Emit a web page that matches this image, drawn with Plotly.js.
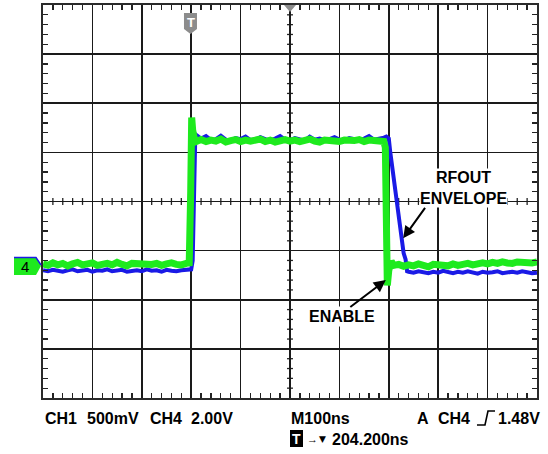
<!DOCTYPE html>
<html>
<head>
<meta charset="utf-8">
<script src="https://cdn.plot.ly/plotly-3.0.1.min.js"></script>
<style>html,body{margin:0;padding:0;background:#fff;}#chart{width:548px;height:454px;}</style>
</head>
<body>
<div id="chart"></div>
<script>
// Time in ns (M100ns per division), amplitude in screen divisions
const enableT = [0,10,20,30,40,50,60,70,80,90,100,110,120,130,140,150,160,170,180,190,200,210,220,230,240,250,260,270,280,290,
  296,299,301,303,306,310,
  320,330,340,350,360,370,380,390,400,410,420,430,440,450,460,470,480,490,500,510,520,530,540,550,560,570,580,590,600,610,620,630,640,650,660,670,680,
  690,693,695,697,700,705,710,
  720,730,740,750,760,770,780,790,800,810,820,830,840,850,860,870,880,890,900,910,920,930,940,950,960,970,980,990,1000];
const enableV = [-1.27,-1.30,-1.25,-1.29,-1.26,-1.31,-1.27,-1.24,-1.29,-1.28,-1.25,-1.30,-1.27,-1.26,-1.29,-1.24,-1.28,-1.31,-1.26,-1.27,-1.25,-1.29,-1.28,-1.26,-1.30,-1.27,-1.25,-1.28,-1.29,-1.26,
  -1.25,0.20,1.71,1.45,1.30,1.22,
  1.26,1.22,1.25,1.23,1.27,1.21,1.24,1.26,1.22,1.25,1.23,1.24,1.27,1.22,1.25,1.21,1.24,1.26,1.23,1.25,1.22,1.24,1.27,1.23,1.21,1.25,1.24,1.26,1.22,1.25,1.23,1.24,1.26,1.22,1.25,1.23,1.24,
  1.22,1.10,-1.10,-1.71,-1.40,-1.22,-1.30,
  -1.28,-1.32,-1.29,-1.31,-1.27,-1.30,-1.33,-1.28,-1.30,-1.29,-1.31,-1.27,-1.30,-1.28,-1.26,-1.29,-1.27,-1.25,-1.27,-1.24,-1.26,-1.23,-1.25,-1.26,-1.23,-1.24,-1.22,-1.25,-1.23];

const rfoutT = [0,10,20,30,40,50,60,70,80,90,100,110,120,130,140,150,160,170,180,190,200,210,220,230,240,250,260,270,280,290,300,
  303,306,308,312,
  320,330,340,350,360,370,380,390,400,410,420,430,440,450,460,470,480,490,500,510,520,530,540,550,560,570,580,590,600,610,620,630,640,650,660,670,680,690,
  695,700,703,708,714,720,726,730,734,737,740,
  750,760,770,780,790,800,810,820,830,840,850,860,870,880,890,900,910,920,930,940,950,960,970,980,990,1000];
const rfoutV = [-1.40,-1.42,-1.39,-1.41,-1.43,-1.40,-1.38,-1.42,-1.41,-1.39,-1.43,-1.40,-1.41,-1.38,-1.42,-1.40,-1.39,-1.43,-1.41,-1.40,-1.42,-1.38,-1.41,-1.40,-1.43,-1.39,-1.41,-1.42,-1.40,-1.39,-1.38,
  -1.20,0.60,1.20,1.34,
  1.28,1.33,1.25,1.27,1.34,1.26,1.24,1.29,1.27,1.32,1.25,1.26,1.31,1.27,1.24,1.28,1.33,1.26,1.25,1.29,1.27,1.24,1.32,1.26,1.28,1.25,1.27,1.31,1.26,1.24,1.29,1.27,1.25,1.28,1.33,1.26,1.27,1.30,
  1.32,1.28,1.00,0.60,0.10,-0.40,-0.80,-1.05,-1.18,-1.42,-1.43,
  -1.45,-1.42,-1.44,-1.46,-1.43,-1.45,-1.41,-1.44,-1.46,-1.43,-1.45,-1.42,-1.44,-1.47,-1.43,-1.45,-1.44,-1.42,-1.46,-1.44,-1.43,-1.45,-1.42,-1.44,-1.46,-1.45];

const bottomLabels = ["CH1", "500mV", "CH4", "2.00V", "M100ns", "A", "CH4", "1.48V"];
const triggerLabel = "204.200ns";

// pixel -> paper helpers (plot area: x 43..537, y 5..398)
const L = 43, R = 537, T = 5, B = 398;
const px = x => (x - L) / (R - L);
const py = y => (B - y) / (B - T);
const P = pts => 'M' + pts.map(p => px(p[0]).toFixed(4) + ',' + py(p[1]).toFixed(4)).join(' L') + ' Z';
const PL = pts => 'M' + pts.map(p => px(p[0]).toFixed(4) + ',' + py(p[1]).toFixed(4)).join(' L');

const GREEN = '#1eea1e', BLUE = '#1a1ae6', GRAY = '#8c8c8c';
const FONT = 'Liberation Sans, Arial, sans-serif';

const traces = [
  {x: rfoutT, y: rfoutV, type: 'scatter', mode: 'lines', line: {color: BLUE, width: 4}, hoverinfo: 'skip'},
  {x: enableT, y: enableV, type: 'scatter', mode: 'lines', line: {color: GREEN, width: 7}, hoverinfo: 'skip'}
];

const shapes = [];
// minor ticks on centre lines
for (let i = 0; i <= 50; i++) {
  const t = i * 20;
  if (t % 100 === 0) continue;
  shapes.push({type: 'line', xref: 'x', yref: 'y', x0: t, x1: t, y0: -0.07, y1: 0.07, line: {color: '#222', width: 1.3}, layer: 'below'});
}
for (let i = 0; i <= 40; i++) {
  const v = -4 + i * 0.2;
  if (Math.abs(v - Math.round(v)) < 1e-6) continue;
  shapes.push({type: 'line', xref: 'x', yref: 'y', x0: 494, x1: 506, y0: v, y1: v, line: {color: '#222', width: 1.3}, layer: 'below'});
}
// channel 4 marker
shapes.push({type: 'path', xref: 'paper', yref: 'paper', path: P([[14,257],[36,257],[41,266],[36,275],[14,275]]), fillcolor: GREEN, line: {width: 0}});
shapes.push({type: 'path', xref: 'paper', yref: 'paper', path: PL([[14,257.5],[36,257.5],[41,265]]), line: {color: BLUE, width: 1.5}});
// trigger position marker
shapes.push({type: 'path', xref: 'paper', yref: 'paper', path: P([[184,13],[197,13],[197,29],[190.5,34],[184,29]]), fillcolor: GRAY, line: {width: 0}});
// centre marker
shapes.push({type: 'path', xref: 'paper', yref: 'paper', path: P([[284,5],[296,5],[290,12]]), fillcolor: GRAY, line: {width: 0}});
// trigger slope glyph
shapes.push({type: 'path', xref: 'paper', yref: 'paper', path: PL([[477,425],[485,425],[488,411],[495,411]]), line: {color: '#000', width: 1.6}});
// T box on bottom line
shapes.push({type: 'rect', xref: 'paper', yref: 'paper', x0: px(290), x1: px(303), y0: py(447), y1: py(430), fillcolor: '#000', line: {width: 0}});

const ann = [];
const txt = (text, x, y, anchor, size, color, extra) => Object.assign({
  text: text, xref: 'paper', yref: 'paper', x: px(x), y: py(y), xanchor: anchor, yanchor: 'middle',
  showarrow: false, font: {family: FONT, size: size, color: color || '#000', weight: 'bold'}
}, extra || {});

ann.push(txt('4', 25, 266, 'center', 15, '#000', {font: {family: FONT, size: 15, color: '#000'}}));
ann.push(txt('T', 190.5, 22, 'center', 13, '#fff'));
// RFOUT envelope label
ann.push(txt('RFOUT<br>ENVELOPE', 463, 188, 'center', 16, '#000', {bgcolor: '#fff', borderpad: 0, align: 'center'}));
ann.push({x: 729, y: -0.75, xref: 'x', yref: 'y', text: '', showarrow: true, ax: 23, ay: -32, arrowhead: 2, arrowsize: 1.2, arrowwidth: 2, arrowcolor: '#000'});
// ENABLE label
ann.push(txt('ENABLE', 342, 316, 'center', 16, '#000', {bgcolor: '#fff', borderpad: 1}));
ann.push({x: 694, y: -1.6, xref: 'x', yref: 'y', text: '', showarrow: true, ax: -37, ay: 28, arrowhead: 2, arrowsize: 1.2, arrowwidth: 2, arrowcolor: '#000'});

// bottom readout
const bx = [43, 85, 148, 189, 289, 415, 436, 496];
bottomLabels.forEach((s, i) => ann.push(txt(s, bx[i], 418, 'left', 16)));
ann.push(txt('T', 296.5, 439, 'center', 14, '#fff'));
ann.push(txt('→', 305, 439, 'left', 11));
ann.push(txt('▼', 317, 439, 'left', 9, '#000', {font: {family: 'DejaVu Sans', size: 9, color: '#000'}}));
ann.push(txt(triggerLabel, 330, 439, 'left', 16));

const axisCommon = {
  showticklabels: false, ticks: '', zeroline: false,
  showgrid: true, gridcolor: '#1a1a1a', gridwidth: 1.6,
  showline: true, linecolor: '#2a2a2a', linewidth: 2, mirror: 'allticks'
};
const layout = {
  width: 548, height: 454,
  margin: {l: 43, r: 11, t: 5, b: 56, pad: 0},
  paper_bgcolor: '#fff', plot_bgcolor: '#fff',
  showlegend: false,
  xaxis: Object.assign({}, axisCommon, {range: [0, 1000], dtick: 100, tick0: 0, fixedrange: true,
    minor: {ticks: 'inside', dtick: 20, tick0: 0, ticklen: 5, tickcolor: '#222', tickwidth: 1.3, showgrid: false}}),
  yaxis: Object.assign({}, axisCommon, {range: [-4, 4], dtick: 1, tick0: -4, fixedrange: true,
    minor: {ticks: 'inside', dtick: 0.2, tick0: -4, ticklen: 5, tickcolor: '#222', tickwidth: 1.3, showgrid: false}}),
  shapes: shapes,
  annotations: ann
};
Plotly.newPlot('chart', traces, layout, {staticPlot: true, displayModeBar: false});
</script>
</body>
</html>
